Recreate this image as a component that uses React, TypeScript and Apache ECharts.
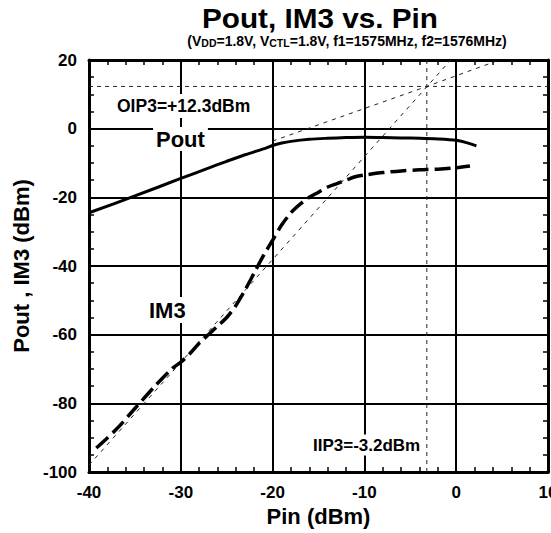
import React, { useEffect, useRef } from "react";
import * as echarts from "echarts";

const FONT = "'Liberation Sans', Arial, Helvetica, sans-serif";

// Axis ranges
const xMin = -40;
const xMax = 10;
const xStep = 10;
const yMin = -100;
const yMax = 20;
const yStep = 20;

// Pout curve (Pin dBm -> Pout dBm)
const pinPout = [-40, -35, -30, -27, -25, -23, -21, -20, -19, -18, -16, -14, -12, -10, -8, -6, -4, -2, 0, 1, 2.2];
const poutDbm = [-24.5, -19.6, -14.5, -11.5, -9.5, -7.6, -5.9, -4.9, -4.2, -3.7, -3.1, -2.8, -2.6, -2.5, -2.6, -2.7, -2.8, -3.0, -3.4, -4.0, -5.0];

// IM3 curve (Pin dBm -> IM3 dBm)
const pinIm3 = [-39.2, -37, -35, -33, -31, -30, -29, -28, -27, -26, -25, -24, -23, -22, -21, -20, -19, -18, -17, -16, -15, -14, -13, -12, -11, -10, -8, -6, -4, -2, 0, 1.5];
const im3Dbm = [-93, -87.5, -81.5, -75.5, -70, -68, -65.5, -62.5, -60, -57.5, -55, -51.5, -47, -42, -37, -32.5, -28, -24.5, -22, -20, -18.5, -17, -16, -15, -14, -13.5, -12.8, -12.3, -12, -11.8, -11.4, -10.9];

// Intercept points
const oip3Dbm = 12.3;
const iip3Dbm = -3.2;

// Extrapolation lines
const poutExtrapPin = [-20, -3.2, 4.3];
const poutExtrapOut = [-3.6, 12.3, 19.6];
const im3ExtrapPin = [-40, -0.6];
const im3ExtrapOut = [-98, 20];

const zip = (xs: number[], ys: number[]) => xs.map((x, i) => [x, ys[i]]);

const boldText = (size: number) => ({
  color: "#000",
  fontSize: size,
  fontWeight: "bold" as const,
  fontFamily: FONT,
});

const refLine = (data: number[][], dash: number[]) => ({
  type: "line",
  data,
  symbol: "none",
  silent: true,
  z: 3,
  lineStyle: { color: "#222", width: 1, type: dash },
});

const frameAxis = (extra: any) => ({
  type: "value",
  axisLine: { show: true, onZero: false, lineStyle: { color: "#000", width: 3 } },
  axisTick: { show: false, inside: true },
  ...extra,
});

export default function App() {
  const ref = useRef<HTMLDivElement>(null);

  useEffect(() => {
    document.body.style.margin = "0";
    const chart = echarts.init(ref.current!, null, { renderer: "svg" });
    const option: any = {
      animation: false,
      backgroundColor: "#fff",
      grid: { left: 89, right: 3, top: 60, bottom: 61, containLabel: false, outerBoundsMode: "none" },
      xAxis: [
        frameAxis({
          min: xMin,
          max: xMax,
          interval: xStep,
          position: "bottom",
          minorTick: { show: true, splitNumber: 5, length: 5, lineStyle: { color: "#000", width: 1.5 } },
          axisLabel: { margin: 12, ...boldText(17) },
          splitLine: { show: true, lineStyle: { color: "#000", width: 2 } },
          name: "Pin (dBm)",
          nameLocation: "middle",
          nameGap: 17,
          nameTextStyle: boldText(22),
        }),
        frameAxis({
          min: xMin,
          max: xMax,
          interval: xStep,
          position: "top",
          minorTick: { show: true, splitNumber: 5, length: 5, lineStyle: { color: "#000", width: 1.5 } },
          axisLabel: { show: false },
          splitLine: { show: false },
        }),
      ],
      yAxis: [
        frameAxis({
          min: yMin,
          max: yMax,
          interval: yStep,
          position: "left",
          minorTick: { show: true, splitNumber: 4, length: 5, lineStyle: { color: "#000", width: 1.5 } },
          axisLabel: { margin: 12, ...boldText(17) },
          splitLine: { show: true, lineStyle: { color: "#000", width: 2 } },
          name: "Pout , IM3 (dBm)",
          nameLocation: "middle",
          nameGap: 43,
          nameTextStyle: boldText(22),
        }),
        frameAxis({
          min: yMin,
          max: yMax,
          interval: yStep,
          position: "right",
          minorTick: { show: true, splitNumber: 4, length: 5, lineStyle: { color: "#000", width: 1.5 } },
          axisLabel: { show: false },
          splitLine: { show: false },
        }),
      ],
      series: [
        refLine([[xMin, oip3Dbm], [xMax, oip3Dbm]], [4, 4]),
        refLine([[iip3Dbm, yMin], [iip3Dbm, yMax]], [4, 4]),
        refLine(zip(poutExtrapPin, poutExtrapOut), [4, 5]),
        refLine(zip(im3ExtrapPin, im3ExtrapOut), [4, 5]),
        {
          name: "Pout",
          type: "line",
          data: zip(pinPout, poutDbm),
          symbol: "none",
          smooth: 0.3,
          z: 5,
          lineStyle: { color: "#000", width: 3 },
        },
        {
          name: "IM3",
          type: "line",
          data: zip(pinIm3, im3Dbm),
          symbol: "none",
          smooth: 0.3,
          z: 5,
          lineStyle: { color: "#000", width: 3.5, type: [16, 6] },
        },
      ],
      graphic: [
        {
          type: "text",
          x: 320,
          y: 18,
          scaleX: 1.1,
          style: {
            text: "Pout, IM3 vs. Pin",
            fill: "#000",
            fontSize: 27,
            fontWeight: "bold",
            fontFamily: FONT,
            align: "center",
            verticalAlign: "middle",
          },
        },
        {
          type: "text",
          x: 347,
          y: 41,
          style: {
            text: "{a|(V}{s|DD}{a|=1.8V, V}{s|CTL}{a|=1.8V, f1=1575MHz, f2=1576MHz)}",
            fill: "#000",
            align: "center",
            verticalAlign: "middle",
            rich: {
              a: { fontSize: 14, fontWeight: "bold", fontFamily: FONT, fill: "#000", verticalAlign: "bottom" },
              s: { fontSize: 10.5, fontWeight: "bold", fontFamily: FONT, fill: "#000", verticalAlign: "bottom" },
            },
          },
        },
        {
          type: "text",
          x: 115,
          y: 106,
          z: 100,
          style: {
            text: "OIP3=+12.3dBm",
            fill: "#000",
            fontSize: 17.5,
            fontWeight: "bold",
            fontFamily: FONT,
            verticalAlign: "middle",
            backgroundColor: "#fff",
            padding: [3, 2, 3, 2],
          },
        },
        {
          type: "text",
          x: 153,
          y: 139,
          z: 100,
          style: {
            text: "Pout",
            fill: "#000",
            fontSize: 22,
            fontWeight: "bold",
            fontFamily: FONT,
            verticalAlign: "middle",
            backgroundColor: "#fff",
            padding: [1, 3, 1, 3],
          },
        },
        {
          type: "text",
          x: 146,
          y: 310,
          z: 100,
          style: {
            text: "IM3",
            fill: "#000",
            fontSize: 22,
            fontWeight: "bold",
            fontFamily: FONT,
            verticalAlign: "middle",
            backgroundColor: "#fff",
            padding: [2, 3, 2, 3],
          },
        },
        {
          type: "text",
          x: 311,
          y: 445,
          z: 100,
          style: {
            text: "IIP3=-3.2dBm",
            fill: "#000",
            fontSize: 17,
            fontWeight: "bold",
            fontFamily: FONT,
            verticalAlign: "middle",
            backgroundColor: "#fff",
            padding: [2, 2, 2, 2],
          },
        },
      ],
    };
    chart.setOption(option);
    return () => chart.dispose();
  }, []);

  return <div ref={ref} style={{ width: 551, height: 533 }} />;
}
